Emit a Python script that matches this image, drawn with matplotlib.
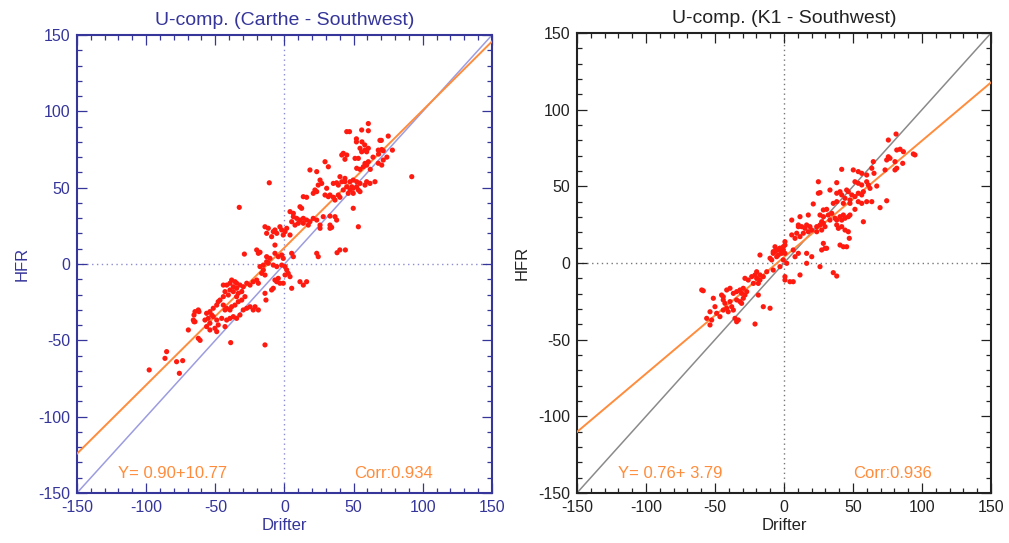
import matplotlib
matplotlib.use("Agg")
import matplotlib.pyplot as plt
from matplotlib.ticker import MultipleLocator

plt.rcParams['font.family'] = ['Liberation Sans', 'DejaVu Sans']
plt.rcParams['axes.unicode_minus'] = False

# ---- Carthe drifters vs HFR (u-component, m/s*100) ----
carthe_pts = [
    (-97.8, -69.4), (-85.2, -57.4), (-86.4, -61.8), (-78, -64), (-73.6, -63.3), (-76, -71.6),
    (-69.5, -43.2), (-61, -50), (-65.4, -33.4), (-65.4, -37.8), (-61.8, -31.2), (-56.3, -32.3),
    (-39.4, -12.6), (-38.2, -10.5), (-35.8, -11.6), (-34.6, -12.6), (-41.8, -13.8), (-44.2, -13.8),
    (-37, -14.9), (-34.6, -15.9), (-32.2, -13.8), (-29.8, -14.9), (-39.4, -17), (-37, -18.1),
    (-33.4, -19.2), (-30.9, -18.1), (-28.6, -21.4), (-30.9, -23.6), (-33.4, -24.7), (-34.6, -21.4),
    (-40.6, -20.3), (-43, -18.1), (-44.2, -21.4), (-35.8, -26.9), (-38.2, -28), (-39.4, -30.1),
    (-41.8, -29), (-43, -30.1), (-44.2, -26.9), (-47.9, -24.7), (-46.6, -23.6), (-49, -26.9),
    (-51.5, -29), (-53.9, -31.2), (-52.6, -33.4), (-55.1, -35.6), (-53.9, -38.8), (-51.5, -34.5),
    (-49, -36.7), (-47.9, -39.9), (-45.4, -35.6), (-41.8, -36.7), (-39.4, -35.6), (-37, -34.5),
    (-34.6, -35.6), (-32.2, -33.4), (-29.8, -30.1), (-27.3, -29), (-24.9, -28), (-22.6, -30.1),
    (-18.9, -30.1), (-21.3, -28), (-64.7, -31.2), (-62.3, -30.1), (-65.9, -36.7), (-64.7, -37.8),
    (-62.3, -48.7), (-57.5, -36.7), (-56.3, -41), (-53.9, -43.2), (-50.3, -42.1), (-49, -44.3),
    (-43, -41), (-38.9, -51.5), (-14.1, -53), (-20.1, -10.5), (-18.9, -12.6), (-22.6, -11.6),
    (-24.9, -13.8), (-27.3, -12.6), (-5.6, -11.6), (-3.3, -12.6), (-0.9, -12.6), (-6.9, -10.5),
    (-9.3, -17), (-8.1, -15.9), (-4.5, -9.4), (-14.1, -19.2), (-13.4, -23.6), (-17.7, -1.7),
    (-15.3, -3.9), (-16.5, -6.1), (-14.1, -7.2), (-11.7, 0.5), (-8.1, -0.7), (-5.6, -1.7),
    (-2, -0.7), (0.4, -1.7), (-29, 6.5), (-32.7, 37.1), (-11, 53.2), (1.6, -3.9), (2.7, -6.1),
    (4, -8.3), (0.4, -7.2), (5.2, -15.9), (11.2, -11.6), (16, -11.6), (13.6, -13.8),
    (-17.7, 7.7), (-12.9, 4.8), (-10.5, 3.7), (-6.9, 7), (-4.5, 4.8), (-2, 5.9), (-0.9, 3.7),
    (5.2, 7), (-15.3, -0.7), (-20.1, 9.2), (-18.9, 7), (6.4, 4.8), (-12.9, 1.5), (-6.9, 12.4),
    (-11.7, 23.4), (-6.9, 22.3), (-3.3, 24.4), (-2, 22.3), (-0.9, 19), (-12.9, 20.1),
    (-5.6, 20.1), (-9.3, 17.9), (-14.1, 24.4), (0.4, 21.2), (1.6, 23.4), (4, 19), (-8.1, 21.2),
    (4, 34.3), (6.4, 33.2), (11.2, 37.5), (12.4, 36.5), (6.4, 31), (8.8, 29.9), (11.2, 28.8),
    (13.6, 29.9), (16, 28.8), (18.4, 27.7), (10, 26.7), (13.6, 26.7), (17.2, 25.5), (5.2, 27.7),
    (7.6, 25.5), (20.8, 29.9), (23.3, 28.8), (25.7, 25.5), (28, 31), (36.5, 31), (37.7, 28.8),
    (32.9, 25.5), (34.1, 24), (25.7, 23.4), (32.9, 23.4), (32.9, 31.4), (49.7, 36.5),
    (53.4, 24.4), (23.3, 7), (24.4, 4.8), (38, 7.4), (40, 9.2), (44, 9.2), (92, 57.2),
    (13.6, 44.1), (16, 43.7), (22, 48.5), (23.3, 47.4), (20.8, 46.3), (29.3, 45.2),
    (31.7, 44.1), (32.9, 45.2), (35.3, 43.7), (36.5, 41.9), (38.9, 45.2), (40.1, 43.7),
    (30.5, 49.6), (35.3, 52.8), (37.7, 53.2), (38.9, 51.7), (41.4, 53.9), (43.7, 53.9),
    (47.4, 53.9), (49.7, 55), (52.2, 53.9), (54.6, 52.8), (52.2, 50.6), (48.6, 50.6), (45, 50.6),
    (42.5, 48.5), (47.4, 48.5), (49.7, 49.6), (53.4, 48.5), (59.4, 53.9), (58.2, 51.7),
    (61.8, 52.8), (65.4, 53.9), (54.6, 47.4), (49.7, 46.3), (46.1, 46.3), (25.7, 55),
    (26.9, 52.8), (24.4, 51.7), (40.1, 57.2), (43.7, 56.1), (18.4, 61.6), (23.3, 60.5),
    (29.3, 67), (31.7, 63.7), (52.2, 62.7), (54.6, 62), (57, 63.7), (58.2, 65.9), (59.4, 64.8),
    (60.6, 67), (67.8, 66), (70.3, 64.8), (71.4, 68.1), (64, 70), (68, 72), (74, 70), (62, 62),
    (42.5, 72.5), (45, 71.4), (41.4, 71.4), (43.7, 68.6), (51, 69.2), (53.4, 69.2),
    (54.6, 75.8), (58.2, 74.6), (60.6, 75.8), (55.8, 73.5), (59.4, 73.5), (67.8, 74.6),
    (70.3, 75), (71.4, 74.2), (78, 74.6), (69, 81), (70, 81), (52, 82), (52, 80), (56, 80),
    (58, 78), (75, 83.8), (45, 86.7), (47, 86.7), (55.8, 87.8), (60.6, 87.3), (60.6, 92),
]
carthe_drifter = [p[0] for p in carthe_pts]
carthe_hfr = [p[1] for p in carthe_pts]

# ---- K1 drifters vs HFR ----
k1_pts = [
    (-59.6, -17.6), (-58.5, -18.1), (-51.2, -23), (-45.2, -20.9), (-44, -22), (-41.5, -17.6),
    (-39.1, -16.5), (-36.7, -19.8), (-34.3, -18.7), (-31.9, -17.6), (-30.7, -19.8),
    (-28.3, -20.9), (-29.5, -16.5), (-27, -18.7), (-44, -24.1), (-42.8, -26.3), (-39.1, -25.2),
    (-41.5, -29.5), (-37.9, -28.5), (-44, -30.7), (-40.4, -31.8), (-36.7, -30.7), (-50, -28.5),
    (-53.6, -31.8), (-56, -36.1), (-52.4, -37.2), (-53.6, -40.4), (-48.8, -32.8), (-46.4, -35),
    (-34.3, -24.1), (-31.9, -25.2), (-30.7, -26.3), (-29.5, -23), (-35.5, -36.1), (-33.1, -37.2),
    (-34.3, -38.3), (-21, -39.8), (-28.3, -10), (-25.9, -11.1), (-23.4, -8.9), (-21, -7.8),
    (-19.8, -10), (-17.4, -11.1), (-18.6, -13.3), (-22.2, -13.3), (-19.8, -5.7), (-17.4, -7.8),
    (-15, -8.9), (-12.5, -5.7), (-18.6, -20.9), (-15, -28.5), (-10.1, -29.5), (-17.4, 5.2),
    (-10.1, 3.1), (-7.8, 6.3), (-6.5, 7.4), (-5.3, 8.5), (-2.9, 9.6), (-4.1, 5.2), (-1.7, 6.3),
    (-0.5, 8.5), (0.7, 13.9), (0.7, 11.7), (5.6, 28), (10.4, 23.7), (9.2, 19.4), (5.6, 18.3),
    (0.7, -11.1), (4.3, -12.2), (6.7, -12.2), (8, 4.1), (81.2, 84.1), (75.6, 80.2), (81.7, 73.7),
    (84.1, 74.2), (86.5, 72.6), (94.9, 70.5), (86, 65), (93.7, 71.1), (75.6, 69.3), (76.8, 68.3),
    (74.4, 67.2), (80.4, 66.1), (81.7, 61.8), (80.4, 60.7), (73.2, 60.7), (64.7, 66.1),
    (63.6, 61.8), (65.2, 58.5), (41.8, 61.1), (50.2, 60.7), (53.8, 59.6), (56.3, 58.5),
    (59.9, 57.4), (24.9, 53), (38.2, 52.4), (51.4, 53), (53.8, 52), (56.3, 50.9), (59.9, 53),
    (61.1, 50.9), (67.2, 50.2), (62.3, 48.7), (33.3, 47.6), (38.2, 45.5), (40.6, 46.5),
    (45.4, 47.6), (46.6, 46.5), (49.1, 44.4), (51.4, 43.3), (53.8, 45.5), (57.5, 46.5),
    (56.3, 44.4), (44.2, 42.2), (47.8, 41.1), (41.8, 44.4), (24.9, 45.5), (26.1, 45.9),
    (21.2, 38.5), (35.7, 38.9), (38.2, 40), (43, 38.9), (47.8, 38.9), (53.8, 40), (56.3, 38.9),
    (59.9, 40), (63.6, 40), (74.4, 40.6), (69.6, 36.1), (51.4, 35), (28.5, 34.6), (30.9, 35),
    (26.1, 31.3), (28.5, 30.2), (32.1, 31.3), (34.6, 32.4), (37, 29.2), (38.2, 28), (40.6, 30.2),
    (43, 31.3), (44.2, 29.2), (46.6, 30.2), (47.8, 31.3), (41.8, 28), (33.3, 28), (57.5, 26.9),
    (17.6, 31.3), (11.6, 30.2), (10.4, 24.8), (12.8, 23.7), (15.2, 22.6), (16.4, 24.8),
    (18.8, 23.7), (20.1, 21.5), (23.7, 23.7), (26.1, 24.8), (28.5, 25.9), (29.7, 23.7),
    (27.3, 21.5), (23.7, 20.4), (17.6, 20.4), (14, 19.4), (11.6, 17.2), (8, 16.1), (27.3, 26.9),
    (41.8, 23.7), (44.2, 21.5), (46.6, 20.4), (38.2, 24.8), (39.4, 22.6), (47.3, 16.1),
    (28.5, 12.8), (29.7, 9.6), (27.3, 8.5), (30.9, 9.6), (40.6, 11.7), (43, 10.6), (45.4, 10.6),
    (16.4, 6.3), (10.4, 6.3), (6.7, 8.5), (20.1, 4.1), (26.1, -2.4), (16.4, -0.2), (-6.5, 10.6),
    (-4.1, 8.5), (-7.8, 7.4), (-2.9, 9.6), (-0.5, 10.6), (-1.7, 7.4), (-5.3, 4.1), (-8.9, 2),
    (0.7, 6.3), (-0.5, 2), (2, -0.2), (-2.9, -2.4), (-7.8, -4.6), (0.7, -8.9), (11.6, -7.8),
    (35.7, -6.3), (38.2, -8.5),
]
k1_drifter = [p[0] for p in k1_pts]
k1_hfr = [p[1] for p in k1_pts]

titles = ["U-comp. (Carthe - Southwest)", "U-comp. (K1 - Southwest)"]
slopes = [0.90, 0.76]
intercepts = [10.77, 3.79]
fit_labels = ["Y= 0.90+10.77", "Y= 0.76+ 3.79"]
corr_labels = ["Corr:0.934", "Corr:0.936"]
ticks = [-150, -100, -50, 0, 50, 100, 150]

frame_colors = ["#35359a", "#222222"]
diag_colors = ["#9c9ce0", "#8a8a8a"]
zero_colors = ["#8c8cd0", "#777777"]
orange = "#ff8c3c"
red = "#ff1a10"

fig = plt.figure(figsize=(10.09, 5.43), dpi=100)
rects = [[0.0763, 0.0921, 0.4113, 0.8434], [0.5718, 0.0921, 0.4104, 0.8471]]
data = [(carthe_drifter, carthe_hfr), (k1_drifter, k1_hfr)]

for i in range(2):
    ax = fig.add_axes(rects[i])
    fc = frame_colors[i]
    xs = [-150, 150]
    ax.plot(xs, xs, color=diag_colors[i], lw=1.1, zorder=2)
    ax.plot(xs, [slopes[i] * v + intercepts[i] for v in xs], color=orange, lw=1.4, zorder=3)
    ax.axhline(0, color=zero_colors[i], lw=1.0, ls=(0, (1, 2.5)), zorder=1)
    ax.axvline(0, color=zero_colors[i], lw=1.0, ls=(0, (1, 2.5)), zorder=1)
    ax.scatter(data[i][0], data[i][1], s=14, color=red, edgecolors='none', zorder=4)

    ax.set_xlim(-150, 150)
    ax.set_ylim(-150, 150)
    ax.set_xticks(ticks)
    ax.set_yticks(ticks)
    ax.xaxis.set_minor_locator(MultipleLocator(10))
    ax.yaxis.set_minor_locator(MultipleLocator(10))
    ax.tick_params(which='both', direction='in', top=True, right=True,
                   colors=fc, labelcolor=fc, labelsize=11.5, width=0.9)
    ax.tick_params(which='major', length=7, pad=5)
    ax.tick_params(which='minor', length=3.5)
    for sp in ax.spines.values():
        sp.set_color(fc)
        sp.set_linewidth(1.5)

    ax.set_title(titles[i], color=fc, fontsize=14, pad=7)
    ax.set_xlabel("Drifter", color=fc, fontsize=12, labelpad=2)
    ax.set_ylabel("HFR", color=fc, fontsize=12, labelpad=6)

    ax.text(-120, -137, fit_labels[i], color=orange, fontsize=12, va='center', ha='left')
    ax.text(50, -137, corr_labels[i], color=orange, fontsize=12, va='center', ha='left')

fig.savefig("out.png", dpi=100)
